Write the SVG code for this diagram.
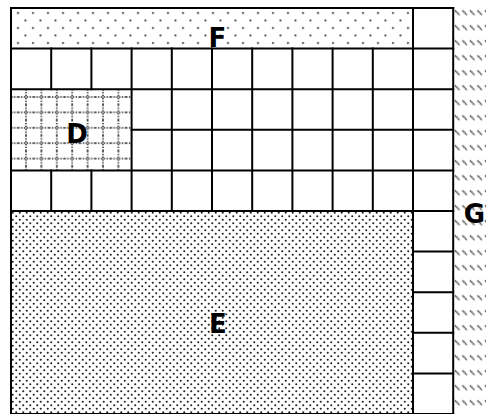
<svg xmlns="http://www.w3.org/2000/svg" width="486" height="414" viewBox="0 0 486 414">
<style>
.ln{stroke:#000;stroke-width:2;fill:none;stroke-linecap:square}
.lbl{font-family:"DejaVu Sans",sans-serif;font-weight:bold;font-size:26px;fill:#000;text-anchor:middle}
</style>
<defs>
<pattern id="pF" patternUnits="userSpaceOnUse" x="14.25" y="9.25" width="15" height="15">
<circle cx="3.75" cy="3.75" r="1" fill="#222"/>
<circle cx="11.25" cy="11.25" r="1" fill="#222"/>
</pattern>
<pattern id="pE" patternUnits="userSpaceOnUse" x="11" y="211" width="7" height="7">
<circle cx="1.75" cy="1.75" r="1.05" fill="#222"/>
<circle cx="5.25" cy="5.25" r="1.05" fill="#222"/>
</pattern>
<pattern id="pD" patternUnits="userSpaceOnUse" x="18.3" y="89.3" width="15.4" height="15.4">
<path d="M7.7 0V15.4M0 7.7H15.4" stroke="#222" stroke-width="1.5" stroke-dasharray="1.4 1.4" fill="none"/>
</pattern>
<pattern id="pG" patternUnits="userSpaceOnUse" x="454" y="5.5" width="7.5" height="15">
<path d="M1 5L5.5 9.5" stroke="#222" stroke-width="1.5" stroke-dasharray="1.3 0.6" fill="none"/>
</pattern>
</defs>
<rect width="486" height="414" fill="#fff"/>
<g id="F"><rect x="11" y="8" width="402" height="40.6" fill="url(#pF)"/></g>
<g id="D"><rect x="11" y="89.2" width="120.6" height="81.2" fill="url(#pD)"/></g>
<g id="E"><rect x="11" y="211" width="402" height="203" fill="url(#pE)"/></g>
<g id="G"><rect x="453.2" y="8" width="40" height="406" fill="url(#pG)"/></g>
<g id="connectors" class="ln">
<path d="M11 8H453.2M11 48.6H453.2M11 89.2H453.2M131.6 129.8H453.2M11 170.4H453.2M11 211H453.2"/>
<path d="M413 251.6H453.2M413 292.2H453.2M413 332.8H453.2M413 373.4H453.2M11 414H453.2"/>
<path d="M11 8V414M413 8V414M453.2 8V414"/>
<path d="M51.2 48.6V89.2M91.4 48.6V89.2M51.2 170.4V211M91.4 170.4V211"/>
<path d="M131.6 48.6V211M171.8 48.6V211M212 48.6V211M252.2 48.6V211M292.4 48.6V211M332.6 48.6V211M372.8 48.6V211"/>
</g>
<g id="labels">
<text class="lbl" x="217.5" y="47">F</text>
<text class="lbl" x="77" y="143">D</text>
<text class="lbl" x="218" y="333">E</text>
<text class="lbl" x="485" y="223" style="text-anchor:end">G</text>
</g>
</svg>
